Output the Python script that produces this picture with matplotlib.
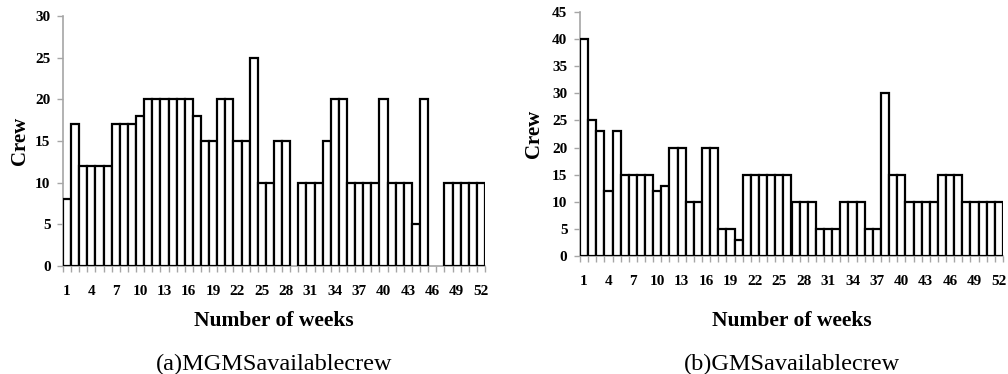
"""Weekly available crew: MGMS vs GMS bar charts."""

import matplotlib
matplotlib.use("Agg")
import matplotlib.pyplot as plt
import numpy as np

plt.rcParams["font.family"] = ["Liberation Serif", "DejaVu Serif"]

weeks = list(range(1, 53))
tick_weeks = list(range(1, 53, 3))

# 0 = no bar drawn for that week
mgms_crew = [8, 17, 12, 12, 12, 12, 17, 17, 17, 18,
             20, 20, 20, 20, 20, 20, 18, 15, 15, 20,
             20, 15, 15, 25, 10, 10, 15, 15, 0, 10,
             10, 10, 15, 20, 20, 10, 10, 10, 10, 20,
             10, 10, 10, 5, 20, 0, 0, 10, 10, 10,
             10, 10]
gms_crew = [40, 25, 23, 12, 23, 15, 15, 15, 15, 12,
            13, 20, 20, 10, 10, 20, 20, 5, 5, 3,
            15, 15, 15, 15, 15, 15, 10, 10, 10, 5,
            5, 5, 10, 10, 10, 5, 5, 30, 15, 15,
            10, 10, 10, 10, 15, 15, 15, 10, 10, 10,
            10, 10]

AXIS_GRAY = "#a6a6a6"

fig = plt.figure(figsize=(10.08, 3.74), dpi=100)
W, H = 1008.0, 374.0


def panel(rect, values, ymax, caption, xlabelpad, ylabelpad):
    l, t, r, b = rect
    ax = fig.add_axes([l / W, 1 - b / H, (r - l) / W, (b - t) / H])
    x = np.array(weeks)
    v = np.array(values)
    keep = v > 0
    ax.bar(x[keep], v[keep], width=1.0, color="white", edgecolor="black",
           linewidth=1.6, zorder=3)
    ax.set_xlim(0.5, 52.5)
    ax.set_ylim(0, ymax)
    ax.set_yticks(range(0, ymax + 1, 5))
    ax.set_xticks(tick_weeks)
    ax.set_xticks(np.arange(0.5, 53, 1.0), minor=True)
    ax.tick_params(axis="x", which="major", length=0, pad=14, labelsize=11)
    ax.tick_params(axis="x", which="minor", length=4, color=AXIS_GRAY, width=1)
    ax.tick_params(axis="y", length=4, color=AXIS_GRAY, width=1, labelsize=11, pad=5)
    for lab in ax.get_xticklabels() + ax.get_yticklabels():
        lab.set_fontweight("bold")
    for s in ("top", "right"):
        ax.spines[s].set_visible(False)
    for s in ("left", "bottom"):
        ax.spines[s].set_color(AXIS_GRAY)
        ax.spines[s].set_linewidth(1.2)
    ax.set_ylabel("Crew", fontsize=15, fontweight="bold", labelpad=ylabelpad)
    ax.set_xlabel("Number of weeks", fontsize=15.5, fontweight="bold",
                  labelpad=xlabelpad)
    cx = (l + r) / 2 / W
    fig.text(cx, 1 - 364 / H, caption, ha="center", va="center", fontsize=17.5)
    return ax


panel((63, 16, 485, 266), mgms_crew, 30, "(a)MGMSavailablecrew", 9, 3.5)
panel((580, 12, 1003, 256), gms_crew, 45, "(b)GMSavailablecrew", 16, 6)

fig.savefig("out.png", dpi=100)
